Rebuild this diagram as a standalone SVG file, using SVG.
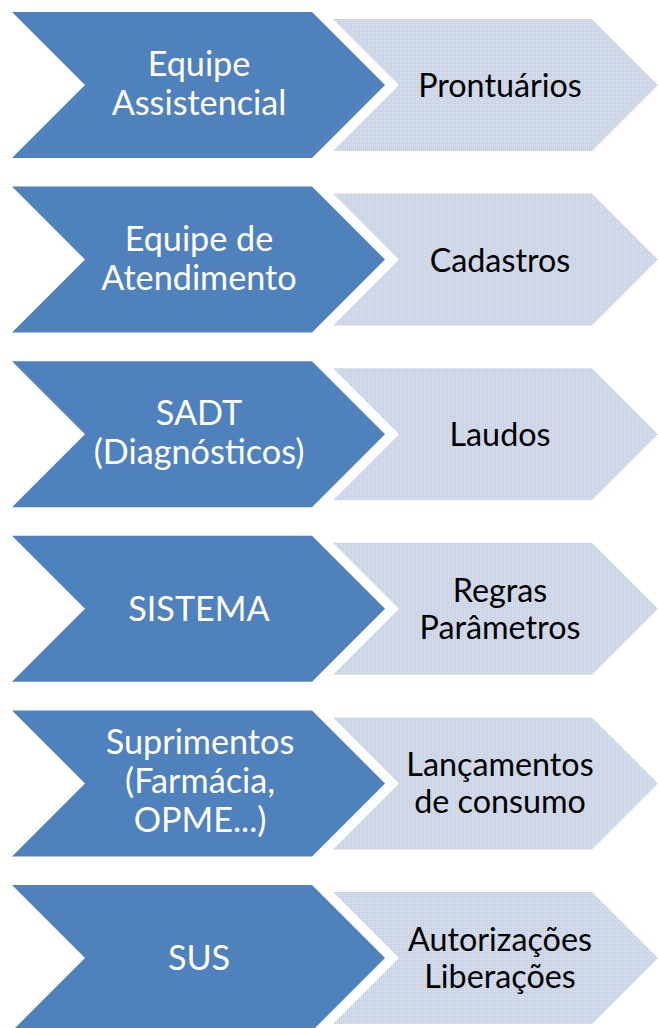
<svg xmlns="http://www.w3.org/2000/svg" width="658" height="1028" viewBox="0 0 658 1028">
<defs>
<pattern id="dots" width="4" height="4" patternUnits="userSpaceOnUse">
<rect width="4" height="4" fill="#cad3e5"/>
<rect x="0" y="0" width="1" height="1" fill="#e8ecf5"/>
<rect x="2" y="2" width="1" height="1" fill="#e8ecf5"/>
<rect x="2" y="0" width="1" height="1" fill="#d8dfed"/>
<rect x="0" y="2" width="1" height="1" fill="#d8dfed"/>
</pattern>
<polygon id="dark" points="12,0 312,0 385,73 312,146 12,146 85,73"/>
<polygon id="light" points="333,7 592,7 658,73 592,139 333,139 399,73"/>
</defs>
<style>
.d{fill:#4f81bd}
.l{fill:url(#dots)}
.dt{font-family:Lato,"Liberation Sans",sans-serif;font-size:34.2px;fill:#ffffff;text-anchor:middle}
.lt{font-family:Lato,"Liberation Sans",sans-serif;font-size:32.3px;fill:#000000;text-anchor:middle}
</style>
<g id="connectors"></g>
<g id="row1" transform="translate(0,12)">
<use href="#dark" class="d"/>
<use href="#light" class="l"/>
<text class="dt"><tspan x="199" y="64">Equipe</tspan><tspan x="199" y="103">Assistencial</tspan></text>
<text class="lt" x="500" y="85">Prontuários</text>
</g>
<g id="row2" transform="translate(0,186.6)">
<use href="#dark" class="d"/>
<use href="#light" class="l"/>
<text class="dt"><tspan x="199" y="64">Equipe de</tspan><tspan x="199" y="103">Atendimento</tspan></text>
<text class="lt" x="500" y="85">Cadastros</text>
</g>
<g id="row3" transform="translate(0,361.2)">
<use href="#dark" class="d"/>
<use href="#light" class="l"/>
<text class="dt"><tspan x="199" y="64">SADT</tspan><tspan x="199" y="103">(Diagnósticos)</tspan></text>
<text class="lt" x="500" y="85">Laudos</text>
</g>
<g id="row4" transform="translate(0,535.8)">
<use href="#dark" class="d"/>
<use href="#light" class="l"/>
<text class="dt" x="199" y="85">SISTEMA</text>
<text class="lt"><tspan x="500" y="66">Regras</tspan><tspan x="500" y="103">Parâmetros</tspan></text>
</g>
<g id="row5" transform="translate(0,710.4)">
<use href="#dark" class="d"/>
<use href="#light" class="l"/>
<text class="dt"><tspan x="200" y="44">Suprimentos</tspan><tspan x="200" y="83">(Farmácia,</tspan><tspan x="200" y="122">OPME...)</tspan></text>
<text class="lt"><tspan x="500" y="66">Lançamentos</tspan><tspan x="500" y="103">de consumo</tspan></text>
</g>
<g id="row6" transform="translate(0,885)">
<use href="#dark" class="d"/>
<use href="#light" class="l"/>
<text class="dt" x="199" y="85">SUS</text>
<text class="lt"><tspan x="500" y="66">Autorizações</tspan><tspan x="500" y="103">Liberações</tspan></text>
</g>
</svg>
